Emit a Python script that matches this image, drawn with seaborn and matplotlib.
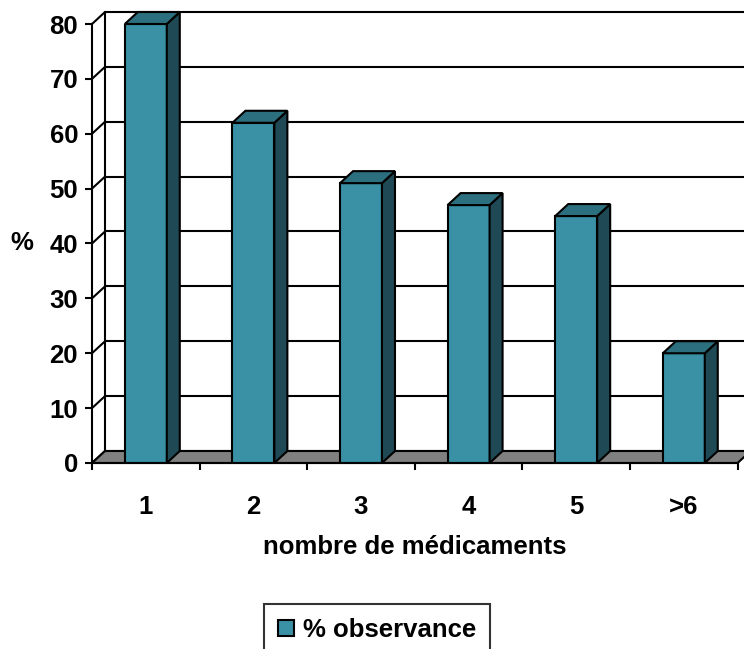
import numpy as np
import pandas as pd
import matplotlib
matplotlib.use("Agg")
import matplotlib.pyplot as plt
import matplotlib.patches as mpatches
import seaborn as sns

# données
categories = ["1", "2", "3", "4", "5", ">6"]
observance = [80, 62, 51, 47, 45, 20]
yticks = [0, 10, 20, 30, 40, 50, 60, 70, 80]

FACE = "#3a91a6"
DESSUS = "#2c6f7e"
COTE = "#1f4954"
SOL = "#808080"
TAILLE = 18.5

sns.set_style("white")
plt.rcParams["font.family"] = ["Liberation Sans", "DejaVu Sans"]
plt.rcParams["font.weight"] = "bold"
plt.rcParams["text.color"] = "black"
plt.rcParams["xtick.color"] = "black"
plt.rcParams["ytick.color"] = "black"
plt.rcParams["axes.labelcolor"] = "black"

df = pd.DataFrame({"nb": categories, "pct": observance})

fig = plt.figure(figsize=(7.44, 6.49), dpi=100)
ax = fig.add_axes([92 / 744, 1 - 463 / 649, 645.6 / 744, 439 / 649])

sns.barplot(data=df, x="nb", y="pct", color=FACE, saturation=1, width=0.39,
            edgecolor="black", linewidth=1.5, ax=ax, zorder=4)

ax.set_xlim(-0.5, len(categories) - 0.5)
ax.set_ylim(0, 80)

# profondeur 3D (en pixels -> unités de données)
p0 = ax.transData.transform((0, 0))
dxd, dyd = ax.transData.inverted().transform(p0 + np.array([13, 12]))

x_g, x_d = -0.5, len(categories) - 0.5

# mur du fond : grille
for v in yticks:
    ax.plot([x_g + dxd, x_d + dxd + 0.2], [v + dyd, v + dyd], color="black",
            lw=1.5, zorder=1, clip_on=False)
    ax.plot([x_g, x_g + dxd], [v, v + dyd], color="black", lw=1.5,
            zorder=1, clip_on=False)
ax.plot([x_g + dxd, x_g + dxd], [dyd, 80 + dyd], color="black", lw=1.5,
        zorder=1, clip_on=False)

# sol gris
sol = mpatches.Polygon([(x_g, 0), (x_d, 0), (x_d + dxd, dyd), (x_g + dxd, dyd)],
                       closed=True, facecolor=SOL, edgecolor="black", lw=1.5,
                       zorder=2, clip_on=False)
ax.add_patch(sol)

# faces latérales et dessus des barres
for bar in ax.patches[:len(categories)]:
    x0 = bar.get_x()
    w = bar.get_width()
    h = bar.get_height()
    cote = mpatches.Polygon([(x0 + w, 0), (x0 + w + dxd, dyd), (x0 + w + dxd, h + dyd), (x0 + w, h)],
                            closed=True, facecolor=COTE, edgecolor="black", lw=1.5,
                            zorder=4, clip_on=False)
    dessus = mpatches.Polygon([(x0, h), (x0 + w, h), (x0 + w + dxd, h + dyd), (x0 + dxd, h + dyd)],
                              closed=True, facecolor=DESSUS, edgecolor="black", lw=1.5,
                              zorder=4, clip_on=False)
    ax.add_patch(cote)
    ax.add_patch(dessus)

# axes avant
for s in ["top", "right"]:
    ax.spines[s].set_visible(False)
for s in ["left", "bottom"]:
    ax.spines[s].set_linewidth(1.5)
    ax.spines[s].set_color("black")
    ax.spines[s].set_zorder(5)

ax.set_yticks(yticks)
ax.tick_params(axis="y", length=5, width=1.5, pad=5, labelsize=TAILLE, direction="out", left=True)
ax.set_xticks(np.arange(len(categories)))
ax.set_xticklabels(categories)
ax.set_xticks(np.arange(len(categories) + 1) - 0.5, minor=True)
ax.tick_params(axis="x", which="major", length=0, pad=23, labelsize=TAILLE)
ax.tick_params(axis="x", which="minor", length=5, width=1.5, direction="out", bottom=True)
for lab in ax.get_xticklabels() + ax.get_yticklabels():
    lab.set_fontweight("bold")

ax.set_xlabel("nombre de médicaments", fontsize=TAILLE, fontweight="bold")
ax.xaxis.set_label_coords(0.5, (463 - 535) / 439)
ax.set_ylabel("%", fontsize=TAILLE, fontweight="bold", rotation=0, va="center", ha="center")
ax.yaxis.set_label_coords((22 - 92) / 645.6, 0.5)

poignee = mpatches.Patch(facecolor=FACE, edgecolor="black", lw=1.5, label="% observance")
leg = fig.legend(handles=[poignee], loc="center", bbox_to_anchor=(377 / 744, 1 - 630 / 649),
                 prop={"size": TAILLE, "weight": "bold"}, frameon=True, fancybox=False,
                 handlelength=0.6, handleheight=0.6, handletextpad=0.35, borderpad=0.55)
leg.get_frame().set_edgecolor("black")
leg.get_frame().set_linewidth(1.5)

fig.savefig("out.png", dpi=100)
